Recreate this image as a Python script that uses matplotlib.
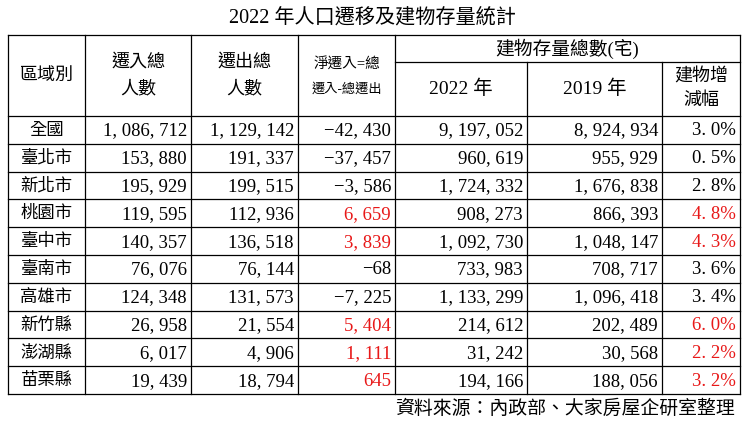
import matplotlib
matplotlib.use("Agg")
import matplotlib.pyplot as plt

plt.rcParams['font.family'] = ['Liberation Serif', 'Noto Sans CJK TC', 'DejaVu Sans']

title = "2022 年人口遷移及建物存量統計"
source = "資料來源：內政部、大家房屋企研室整理"
regions = ["全國", "臺北市", "新北市", "桃園市", "臺中市", "臺南市", "高雄市", "新竹縣", "澎湖縣", "苗栗縣"]
move_in = [1086712, 153880, 195929, 119595, 140357, 76076, 124348, 26958, 6017, 19439]
move_out = [1129142, 191337, 199515, 112936, 136518, 76144, 131573, 21554, 4906, 18794]
net_move = [-42430, -37457, -3586, 6659, 3839, -68, -7225, 5404, 1111, 645]
stock_2022 = [9197052, 960619, 1724332, 908273, 1092730, 733983, 1133299, 214612, 31242, 194166]
stock_2019 = [8924934, 955929, 1676838, 866393, 1048147, 708717, 1096418, 202489, 30568, 188056]
growth_pct = [3.0, 0.5, 2.8, 4.8, 4.3, 3.6, 3.4, 6.0, 2.2, 3.2]

W, H = 745, 424
fig = plt.figure(figsize=(W / 100, H / 100), dpi=100)
ax = fig.add_axes([0, 0, 1, 1])
ax.set_xlim(0, W)
ax.set_ylim(H, 0)
ax.axis('off')

col_x = [8, 85, 191, 298, 395, 527, 662, 740]
top, sub_line, head_bot, bottom = 35, 62, 116, 394
nrows = len(regions)
row_h = (bottom - head_bot) / nrows

lw = 0.9
ax.plot([col_x[0], col_x[-1]], [top, top], color='black', lw=lw)
ax.plot([col_x[4], col_x[-1]], [sub_line, sub_line], color='black', lw=lw)
for i in range(nrows + 1):
    y = head_bot + i * row_h
    ax.plot([col_x[0], col_x[-1]], [y, y], color='black', lw=lw)
for j, x in enumerate(col_x):
    y0 = sub_line if j in (5, 6) else top
    ax.plot([x, x], [y0, bottom], color='black', lw=lw)

cjk_head = 13
cjk_row = 12.5
num_fs = 13.5

ax.text(W / 2, 18, title, ha='center', va='center', fontsize=14.5)

def cx(j):
    return (col_x[j] + col_x[j + 1]) / 2

ax.text(cx(0), (top + head_bot) / 2, "區域別", ha='center', va='center', fontsize=cjk_head)
ax.text(cx(1), 62, "遷入總", ha='center', va='center', fontsize=cjk_head)
ax.text(cx(1), 89, "人數", ha='center', va='center', fontsize=cjk_head)
ax.text(cx(2), 62, "遷出總", ha='center', va='center', fontsize=cjk_head)
ax.text(cx(2), 89, "人數", ha='center', va='center', fontsize=cjk_head)
ax.text(cx(3), 64, "淨遷入=總", ha='center', va='center', fontsize=10.5)
ax.text(cx(3), 89, "遷入-總遷出", ha='center', va='center', fontsize=9.5)
ax.text((col_x[4] + col_x[7]) / 2, 49, "建物存量總數(宅)", ha='center', va='center', fontsize=13.5)
ax.text(cx(4), 89, "2022 年", ha='center', va='center', fontsize=14)
ax.text(cx(5), 89, "2019 年", ha='center', va='center', fontsize=14)
ax.text(cx(6), 77, "建物增", ha='center', va='center', fontsize=cjk_head)
ax.text(cx(6), 100, "減幅", ha='center', va='center', fontsize=cjk_head)

def fmt(v):
    return f"{v:,}".replace(",", ", ")

red = '#e81818'
pad = 4
for i in range(nrows):
    yc = head_bot + (i + 0.5) * row_h + 1
    hl = net_move[i] > 0
    ax.text(cx(0), yc, regions[i], ha='center', va='center', fontsize=cjk_row)
    vals = [fmt(move_in[i]), fmt(move_out[i]), fmt(net_move[i]).replace("-", "−"),
            fmt(stock_2022[i]), fmt(stock_2019[i]), f"{growth_pct[i]:.1f}%".replace(".", ". ")]
    colors = ['black', 'black', red if hl else 'black', 'black', 'black', red if hl else 'black']
    for j, (s, c) in enumerate(zip(vals, colors)):
        ax.text(col_x[j + 2] - pad, yc, s, ha='right', va='center', fontsize=num_fs, color=c)

ax.text(735, 409, source, ha='right', va='center', fontsize=13.6)

fig.savefig("out.png", dpi=100)
